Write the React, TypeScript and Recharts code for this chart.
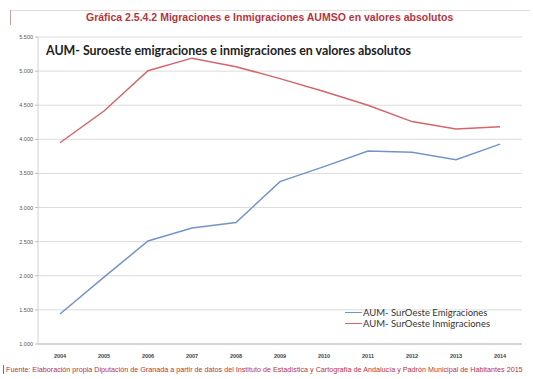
import React from 'react';
import { LineChart, Line, XAxis, YAxis, CartesianGrid } from 'recharts';

const years = ['2004', '2005', '2006', '2007', '2008', '2009', '2010', '2011', '2012', '2013', '2014'];
const emigraciones = [1440, 1980, 2510, 2700, 2780, 3380, 3600, 3830, 3810, 3700, 3930];
const inmigraciones = [3950, 4415, 5005, 5190, 5065, 4890, 4700, 4500, 4260, 4150, 4185];
const yTicks = [1000, 1500, 2000, 2500, 3000, 3500, 4000, 4500, 5000, 5500];
const seriesNames = ['AUM- SurOeste Emigraciones', 'AUM- SurOeste Inmigraciones'];

const BLUE = '#7394cb';
const RED = '#d5646b';

const data = years.map((year, i) => ({
  year,
  emig: emigraciones[i],
  inmig: inmigraciones[i],
}));

const fmt = (v: number) => v.toLocaleString('de-DE');

const LegendBox = () => (
  <div style={{ position: 'absolute', left: 345, top: 307, fontFamily: 'Lato, sans-serif', fontSize: 9.5, color: '#333' }}>
    {[
      { c: BLUE, t: seriesNames[0] },
      { c: RED, t: seriesNames[1] },
    ].map((it) => (
      <div key={it.t} style={{ display: 'flex', alignItems: 'center', height: 11, whiteSpace: 'nowrap' }}>
        <span style={{ width: 17, height: 1.5, background: it.c, marginRight: 1 }} />
        <span>{it.t}</span>
      </div>
    ))}
  </div>
);

export default function App() {
  return (
    <div style={{ position: 'absolute', left: 0, top: 0, width: 533, height: 379, background: '#fff', overflow: 'hidden' }}>
      {/* frame lines */}
      <div style={{ position: 'absolute', left: 10, top: 10, width: 520, height: 0, borderTop: '1px solid #e6d8d8' }} />
      <div style={{ position: 'absolute', left: 10, top: 10, width: 0, height: 15, borderLeft: '1px solid #c9a0a0' }} />
      <div
        style={{
          position: 'absolute',
          left: 86,
          top: 11,
          fontFamily: '"Liberation Sans", Arial, sans-serif',
          fontWeight: 'bold',
          fontSize: 10.5,
          color: '#b8343c',
          whiteSpace: 'nowrap',
        }}
      >
        Gráfica 2.5.4.2 Migraciones e Inmigraciones AUMSO en valores absolutos
      </div>

      <LineChart width={533} height={379} data={data} margin={{ top: 37, right: 11, bottom: 15, left: 0 }}>
        <CartesianGrid vertical={false} stroke="#dcdcdc" strokeWidth={1} />
        <XAxis
          dataKey="year"
          height={20}
          padding={{ left: 22, right: 22 }}
          tickLine={false}
          axisLine={{ stroke: '#bdbdbd' }}
          tick={{ fontSize: 5.5, fontWeight: 'bold', fill: '#444', fontFamily: '"Liberation Sans", Arial, sans-serif' }}
          tickMargin={4}
        />
        <YAxis
          width={38}
          domain={[1000, 5500]}
          ticks={yTicks}
          tickFormatter={fmt}
          tickLine={{ stroke: '#bdbdbd' }}
          tickSize={3}
          axisLine={{ stroke: '#d0d0d0' }}
          tick={{ fontSize: 5.5, fill: '#555', fontFamily: '"Liberation Sans", Arial, sans-serif' }}
          interval={0}
        />
        <Line type="linear" dataKey="emig" name={seriesNames[0]} stroke={BLUE} strokeWidth={1.5} dot={false} isAnimationActive={false} />
        <Line type="linear" dataKey="inmig" name={seriesNames[1]} stroke={RED} strokeWidth={1.5} dot={false} isAnimationActive={false} />
      </LineChart>

      <LegendBox />

      <div
        style={{
          position: 'absolute',
          left: 46,
          top: 43,
          fontFamily: 'Lato, sans-serif',
          fontWeight: 'bold',
          fontSize: 12.4,
          color: '#222',
          whiteSpace: 'nowrap',
        }}
      >
        AUM- Suroeste emigraciones e inmigraciones en valores absolutos
      </div>

      <div style={{ position: 'absolute', left: 3, top: 365, width: 0, height: 9, borderLeft: '1px solid #c05050' }} />
      <div
        style={{
          position: 'absolute',
          left: 6,
          top: 365,
          fontFamily: '"Liberation Sans", Arial, sans-serif',
          fontSize: 7.2,
          color: '#b8343c',
          whiteSpace: 'nowrap',
        }}
      >
        Fuente: Elaboración propia Diputación de Granada a partir de datos del Instituto de Estadística y Cartografía de Andalucía y Padrón Municipal de Habitantes 2015
      </div>
    </div>
  );
}
